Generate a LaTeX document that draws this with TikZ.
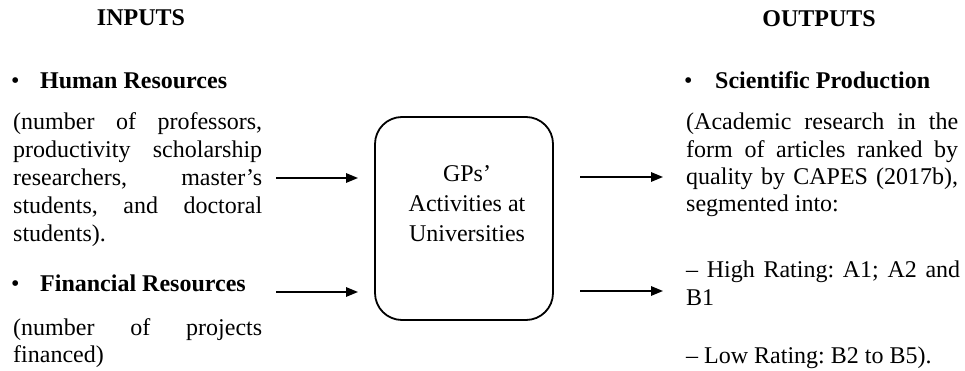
\documentclass[tikz,border=0pt]{standalone}
\usepackage{fontspec}
\setmainfont{Liberation Serif}
\usetikzlibrary{arrows.meta}
\frenchspacing
\begin{document}
\begin{tikzpicture}[x=1pt,y=-1pt,
  txt/.style={inner sep=0pt, font=\fontsize{24}{28}\selectfont},
  para/.style={txt, anchor=base west, align=justify},
  head/.style={inner sep=0pt, font=\fontsize{24}{28}\selectfont\bfseries},
  arr/.style={line width=1.5pt, -{Triangle[length=12pt,width=9.5pt]}},
  procbox/.style={draw, line width=1.8pt, rounded corners=27pt, minimum width=178pt, minimum height=203pt, inner sep=0pt}]
\useasboundingbox (0,0) rectangle (965,371);

% headings
\node[head] (inputs) at (141,18) {INPUTS};
\node[head] (outputs) at (819,19) {OUTPUTS};

% inputs
\node[txt, anchor=base west] (hrb) at (11,89) {\textbullet};
\node[head, anchor=base west] (hr) at (40,89) {Human Resources};
\node[para, text width=249pt] (hrtext) at (13,130) {(number of professors,\linebreak productivity scholarship\linebreak researchers, master’s\linebreak students, and doctoral\linebreak students).};

\node[txt, anchor=base west] (frb) at (11,291) {\textbullet};
\node[head, anchor=base west] (fr) at (40,291) {Financial Resources};
\node[para, text width=249pt, font=\fontsize{24}{27}\selectfont] (frtext) at (13,335) {(number of projects\linebreak financed)};

% process
\node[procbox] (gp) at (464,218.5) {};
\node[txt, font=\fontsize{24}{30}\selectfont, align=center, anchor=north] (gptext) at (467,165.5) {GPs’\\Activities at\\Universities};

% outputs
\node[txt, anchor=base west] (spb) at (684,89) {\textbullet};
\node[head, anchor=base west] (sp) at (715,89) {Scientific Production};
\node[para, text width=272pt, font=\fontsize{24}{27.3}\selectfont] (sptext) at (686,130) {(Academic research in the\linebreak form of articles ranked by\linebreak quality by CAPES (2017b),\linebreak segmented into:};
\node[para, text width=274pt, font=\fontsize{24}{28}\selectfont] (high) at (686,277) {– High Rating: A1; A2 and\linebreak B1};
\node[para, text width=272pt] (low) at (686,363) {– Low Rating: B2 to B5).};

% connectors
\coordinate (l1s) at (276,178); \coordinate (l1e) at (358,178);
\coordinate (l2s) at (276,292); \coordinate (l2e) at (358,292);
\coordinate (r1s) at (580,177); \coordinate (r1e) at (663,177);
\coordinate (r2s) at (580,291); \coordinate (r2e) at (663,291);
\draw[arr] (l1s) -- (l1e);
\draw[arr] (l2s) -- (l2e);
\draw[arr] (r1s) -- (r1e);
\draw[arr] (r2s) -- (r2e);
\end{tikzpicture}
\end{document}
